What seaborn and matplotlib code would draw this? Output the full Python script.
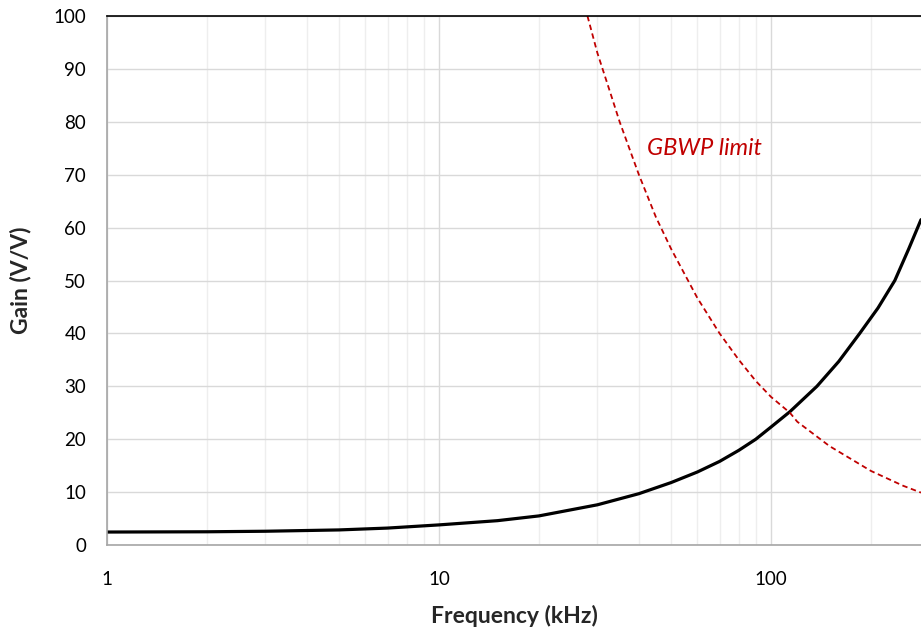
import numpy as np
import pandas as pd
import matplotlib.pyplot as plt
import seaborn as sns
from matplotlib.ticker import FixedLocator, LogLocator, NullFormatter

# === Data ===
freq_khz = [1, 2, 3, 5, 7, 10, 15, 20, 30, 40, 50, 60, 70, 80, 90, 100,
            114, 137.5, 160, 185, 210, 236, 260, 283]
gain_vv = [2.45, 2.5, 2.6, 2.85, 3.2, 3.8, 4.6, 5.5, 7.6, 9.7, 11.8, 13.8, 15.8, 17.9, 20.0, 22.3,
           25.2, 30, 34.7, 40, 44.8, 50, 56, 61.5]

gbwp_freq = [28, 30, 33, 35, 40, 45, 50, 60, 70, 80, 90, 100, 114, 120, 150, 200, 250, 283]
gbwp_gain = [100, 93, 85, 80, 70, 62, 56, 46.7, 40, 35, 31, 28, 25, 23.3, 18.7, 14, 11.2, 9.9]

x_ticks = [1, 10, 100]
y_ticks = list(range(0, 101, 10))

gain_df = pd.DataFrame({"freq": freq_khz, "gain": gain_vv})
gbwp_df = pd.DataFrame({"freq": gbwp_freq, "gain": gbwp_gain})

# === Style ===
sns.set_style("white")
plt.rcParams["font.family"] = ["Lato", "DejaVu Sans"]

fig = plt.figure(figsize=(9.21, 6.32), dpi=100)
ax = fig.add_axes([107 / 921, 1 - 545 / 632, 1 - 107 / 921, (545 - 16) / 632])

sns.lineplot(data=gain_df, x="freq", y="gain", ax=ax, color="black", linewidth=2.3)
sns.lineplot(data=gbwp_df, x="freq", y="gain", ax=ax, color="#C00000",
             linewidth=1.3, linestyle=(0, (3, 2)))

ax.set_xscale("log")
ax.set_xlim(1, 283)
ax.set_ylim(0, 100)

ax.xaxis.set_major_locator(FixedLocator(x_ticks))
ax.set_xticklabels([str(t) for t in x_ticks])
ax.xaxis.set_minor_locator(LogLocator(base=10, subs=np.arange(2, 10)))
ax.xaxis.set_minor_formatter(NullFormatter())
ax.set_yticks(y_ticks)

ax.grid(which="major", color="#D9D9D9", linewidth=1.0)
ax.grid(which="minor", axis="x", color="#EEEEEE", linewidth=1.0)
ax.set_axisbelow(True)
ax.tick_params(which="both", length=0, labelsize=13.5, colors="black")
ax.tick_params(axis="x", pad=19)
ax.tick_params(axis="y", pad=15)

for side in ["left", "bottom"]:
    ax.spines[side].set_color("#A6A6A6")
    ax.spines[side].set_linewidth(1.2)
ax.spines["top"].set_color("black")
ax.spines["top"].set_linewidth(1.2)
ax.spines["right"].set_visible(False)

ax.set_xlabel("Frequency (kHz)", fontsize=16.5, fontweight="bold", labelpad=12)
ax.set_ylabel("Gain (V/V)", fontsize=16.5, fontweight="bold", labelpad=16)

ax.text(42.4, 75, "GBWP limit", color="#C00000", fontsize=17, style="italic",
        va="center", ha="left")

fig.savefig("out.png", dpi=100)
plt.close(fig)
